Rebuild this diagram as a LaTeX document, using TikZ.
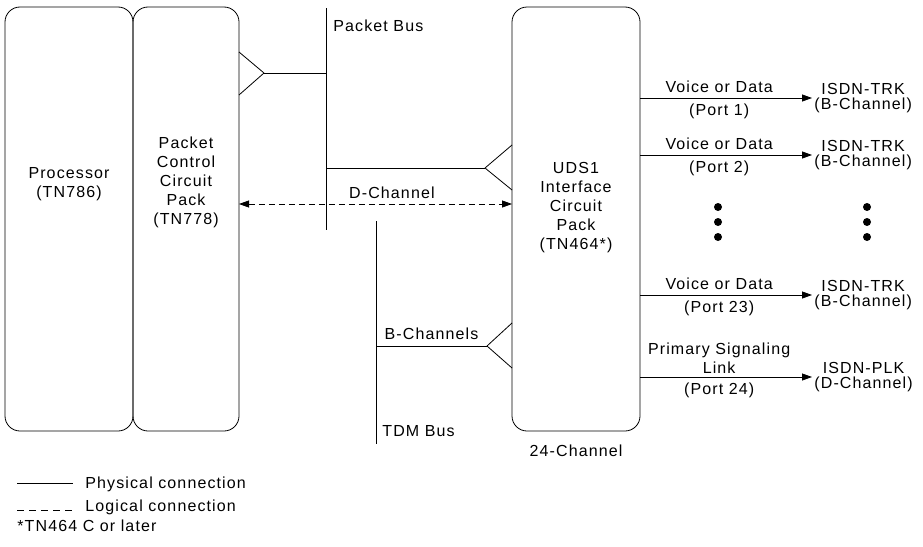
\documentclass[tikz,border=0pt]{standalone}
\usepackage{fontspec}
\setmainfont{Liberation Sans}[LetterSpace=7]
\usetikzlibrary{arrows.meta,positioning}

\begin{document}
\begin{tikzpicture}[
    x=1pt, y=-1pt,
    font=\fontsize{16}{19}\selectfont,
    line width=0.8pt,
    card/.style={draw, rectangle, rounded corners=15pt, minimum height=424pt, inner sep=0pt, outer sep=0pt},
    cardtext/.style={align=center, inner sep=0pt},
    tag/.style={inner sep=0pt, text height=11pt, text depth=3pt},
    endlabel/.style={align=center, inner sep=0pt, font=\fontsize{16}{15}\selectfont},
    logical/.style={dash pattern=on 6pt off 4pt, {Triangle[length=10pt,width=7pt]}-{Triangle[length=10pt,width=7pt]}},
    feed/.style={-{Triangle[length=10pt,width=7pt]}},
    bigdot/.style={circle, fill, inner sep=0pt, minimum size=8pt}
  ]
    \useasboundingbox (0,0) rectangle (923,546);
    % circuit packs
    \node[card, minimum width=128pt] (proc) at (69,219) {};
    \node[card, minimum width=106pt, right=0pt of proc] (pcp) {};
    \node[card, minimum width=128pt] (uds) at (576,219) {};
    \node[cardtext] (proctxt) at ([yshift=35pt]proc.center) {Processor\\(TN786)};
    \node[cardtext] (pcptxt) at ([yshift=37pt]pcp.center) {Packet\\Control\\Circuit\\Pack\\(TN778)};
    \node[cardtext] (udstxt) at ([yshift=11pt]uds.center) {UDS1\\Interface\\Circuit\\Pack\\(TN464*)};
    \node[tag, below=14pt of uds] (chan) {24-Channel};
    % packet bus
    \coordinate (pbtop) at (326,8);
    \coordinate (pbbot) at (326,230);
    \draw (pbtop) -- (pbbot);
    \node[tag, anchor=west] (pblabel) at (333,27.5) {Packet Bus};
    \coordinate (pcptip) at (264,73);
    \draw (pcptip) -- ++(-25,-21) (pcptip) -- ++(-25,22);
    \draw (pcptip) -- (pcptip -| pbtop);
    \coordinate (udstip) at (485,168);
    \draw (udstip) -- ++(27,-23) (udstip) -- ++(27,22);
    \draw (pbtop |- udstip) -- (udstip);
    % tdm bus
    \coordinate (tdmtop) at (376,221);
    \coordinate (tdmbot) at (376,444);
    \draw (tdmtop) -- (tdmbot);
    \node[tag, anchor=west] (tdmlabel) at (382,432) {TDM Bus};
    \coordinate (bchtip) at (487,346);
    \draw (bchtip) -- ++(25,-23) (bchtip) -- ++(25,22);
    \draw (tdmtop |- bchtip) -- node[tag, above=3pt] (bchlabel) {B-Channels} (bchtip);
    % d-channel
    \coordinate (dch) at (0,204);
    \draw[logical] (pcp.east |- dch) -- node[tag, above=2pt, pos=0.56] (dchlabel) {D-Channel} (uds.west |- dch);
    % ports
    \coordinate (port1) at (812,98);
    \coordinate (port2) at (812,155);
    \coordinate (port23) at (812,295);
    \coordinate (port24) at (812,377);
    \draw[feed] (uds.east |- port1) -- node[tag, above=2.5pt, pos=0.46] (vd1) {Voice or Data} node[tag, below=6pt, pos=0.46] (pt1) {(Port 1)} (port1);
    \draw[feed] (uds.east |- port2) -- node[tag, above=2.5pt, pos=0.46] (vd2) {Voice or Data} node[tag, below=6pt, pos=0.46] (pt2) {(Port 2)} (port2);
    \draw[feed] (uds.east |- port23) -- node[tag, above=2.5pt, pos=0.46] (vd23) {Voice or Data} node[tag, below=6pt, pos=0.46] (pt23) {(Port 23)} (port23);
    \draw[feed] (uds.east |- port24) -- node[cardtext, above=3.5pt, pos=0.46] (psl) {Primary Signaling\\Link} node[tag, below=6.5pt, pos=0.46] (pt24) {(Port 24)} (port24);
    \node[endlabel, right=2pt of port1] (trk1) {ISDN-TRK\\(B-Channel)};
    \node[endlabel, right=2pt of port2] (trk2) {ISDN-TRK\\(B-Channel)};
    \node[endlabel, right=2pt of port23] (trk23) {ISDN-TRK\\(B-Channel)};
    \node[endlabel, right=2pt of port24] (plk) {ISDN-PLK\\(D-Channel)};
    \node[bigdot] (dotl1) at (718,207) {};
    \node[bigdot] (dotl2) at (718,222) {};
    \node[bigdot] (dotl3) at (718,237) {};
    \node[bigdot] (dotr1) at (867,207) {};
    \node[bigdot] (dotr2) at (867,222) {};
    \node[bigdot] (dotr3) at (867,237) {};
    % legend
    \draw (17,483) -- ++(56,0) node[tag, right=12pt, yshift=-1pt] (physlabel) {Physical connection};
    \draw[dash pattern=on 7pt off 5pt] (17,510) -- ++(56,0) node[tag, right=12pt, yshift=2.5pt] (loglabel) {Logical connection};
    \node[tag, anchor=west] (footnote) at (17,527) {*TN464 C or later};
  \end{tikzpicture}
\end{document}
